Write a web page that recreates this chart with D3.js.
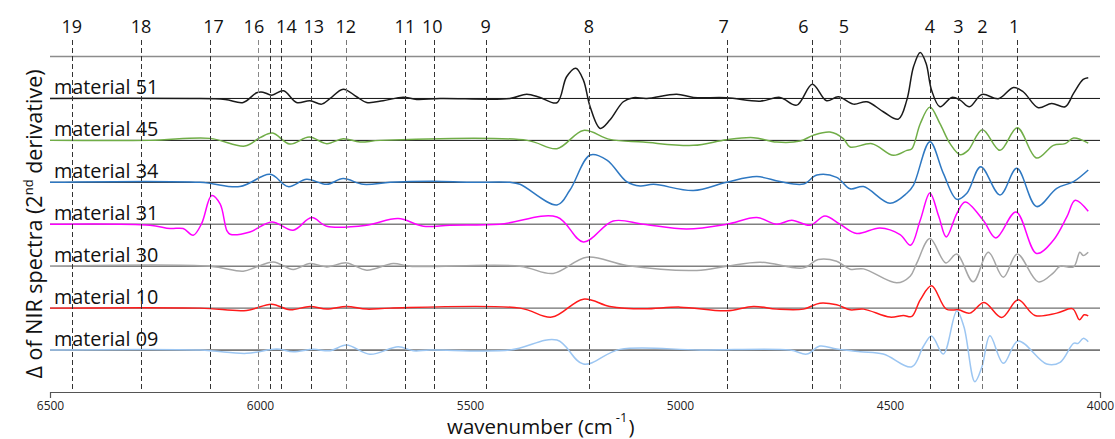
<!DOCTYPE html>
<html><head><meta charset="utf-8">
<script src="https://cdn.jsdelivr.net/npm/d3@7"></script>
<style>
body{margin:0;background:#fff}
svg{display:block}
text{font-family:"Open Sans",Lato,sans-serif}
</style>
</head><body>
<svg id="chart" width="1115" height="439"></svg>
<script>
// ---------- data ----------
const seriesNames = ["material 51","material 45","material 34","material 31","material 30","material 10","material 09"];
const seriesColors = ["#1a1a1a","#70ad47","#2e78c2","#ff00ff","#a6a6a6","#ff1a1a","#9cc6f2"];
const bandLabels = ["19","18","17","16","","14","13","12","11","10","9","8","7","6","5","4","3","2","1"];
const bandWavenumbers = [6448,6283,6118,6005,5976,5949,5879,5796,5655,5585,5463,5217,4889,4685,4619,4405,4337,4280,4197];
const xTicks = [6500,6000,5500,5000,4500,4000];

const m51 = [[6500,0],[6167,0],[6083,-1],[6040,-4],[6008,5.7],[5993,6.3],[5972,3.3],[5944,7.7],[5913,-4],[5881,-2.3],[5853,-5.7],[5833,0],[5802,9.3],[5770,1.7],[5746,-4],[5707,-2.3],[5659,1.3],[5627,-1],[5571,0],[5405,0],[5365,4.3],[5333,1],[5293,-4.3],[5270,21.7],[5248,30.3],[5230,18.3],[5214,-8.3],[5190,-30],[5167,-21.7],[5135,-3.3],[5111,0.7],[5079,0],[5008,4.3],[4968,1],[4889,0.7],[4809,-2.7],[4762,1],[4722,-6.7],[4685,14.3],[4651,-2.3],[4623,1.7],[4587,-5.7],[4555,-3.3],[4516,-13.3],[4480,-20.7],[4460,-1.7],[4444,31.7],[4428,46],[4414,35],[4401,8.3],[4381,-8.3],[4353,1],[4333,-1.7],[4311,-8.3],[4281,4],[4242,-0.3],[4206,11],[4183,6.7],[4147,-9.3],[4115,-5],[4083,-8.3],[4063,5],[4040,19],[4028,20.7]];
const m45 = [[6500,0],[6262,0],[6119,2],[6036,-5.7],[6000,2.7],[5970,7.3],[5929,-3.7],[5883,3.3],[5841,-3.3],[5802,1.7],[5762,-1.7],[5714,0],[5364,0],[5293,-8.3],[5230,10],[5167,1],[5088,-1.7],[4968,-5],[4889,0.7],[4825,2.7],[4770,-1.7],[4714,-0.7],[4683,5],[4643,8.3],[4611,1.7],[4595,-6.7],[4543,-3.3],[4492,-15],[4460,-10],[4448,-8.3],[4428,16.7],[4405,33.3],[4381,16.7],[4357,-3.3],[4333,-14.3],[4314,-10],[4280,10.7],[4238,-10],[4197,12.7],[4151,-17.7],[4111,-5],[4083,-3.3],[4063,2.3],[4028,-2.7]];
const m34 = [[6500,0],[6143,0],[6048,-4.3],[5976,8],[5933,-4.3],[5889,3],[5841,-2],[5802,3.7],[5754,-2],[5690,0],[5588,1],[5500,0],[5405,0],[5381,-2],[5293,-22.7],[5262,-7.7],[5214,27.3],[5174,22.3],[5127,0.7],[5095,-3.7],[5063,-2],[4968,-8.3],[4889,0],[4817,5.7],[4762,0.7],[4706,-1.7],[4674,7.3],[4627,5],[4595,-6.5],[4563,-4.3],[4500,-21],[4460,-11],[4444,-2.7],[4405,40.7],[4373,9],[4341,-17],[4317,-11],[4284,15.7],[4238,-12.7],[4198,14],[4151,-24.3],[4103,-6],[4063,0.7],[4028,12.3]];
const m31 = [[6500,0],[6262,-1],[6214,-4.3],[6183,-4.3],[6159,-11],[6139,0.7],[6115,28.7],[6095,20.3],[6079,-6.3],[6071,-10],[6024,-7.7],[5972,2.3],[5921,-6],[5877,6.7],[5841,-2],[5746,-1],[5671,5.7],[5611,-2],[5548,-1],[5429,0],[5293,7.3],[5230,-17.7],[5159,3.3],[5087,0],[4984,-4.7],[4889,0],[4817,6.7],[4770,0],[4734,4],[4690,-1],[4655,8.3],[4619,0],[4579,-9.3],[4524,-3.7],[4476,-10.3],[4451,-21],[4428,4],[4405,31.3],[4384,8],[4366,-12.7],[4341,10.7],[4321,22.3],[4278,4],[4248,-13.7],[4200,12.3],[4151,-29.3],[4111,-16],[4079,7.3],[4059,24],[4028,13]];
const m30 = [[6500,0],[6119,0],[6040,-5],[6008,-0.7],[5968,4.3],[5921,-3.3],[5881,2.7],[5841,-0.7],[5794,3.3],[5746,-4],[5683,2.7],[5643,0],[5381,0],[5302,-7.3],[5222,9],[5127,0.7],[4960,-4.3],[4889,0],[4809,4],[4706,-1.7],[4671,6.7],[4627,5],[4595,-3],[4563,-2.7],[4484,-16.7],[4452,-10],[4436,3.3],[4405,27.7],[4367,3.3],[4341,12.3],[4302,-15.7],[4266,14],[4230,-11],[4197,12.3],[4147,-15.7],[4111,-6.7],[4095,0],[4063,-0.7],[4048,14],[4040,10.7],[4028,14]];
const m10 = [[6500,0],[6143,0],[6032,-2.3],[5972,4],[5929,-1.7],[5881,1.7],[5841,-1],[5794,1.7],[5746,-1],[5690,0],[5381,0],[5305,-9],[5230,9],[5167,1.7],[5087,-0.7],[5000,1],[4889,-2.7],[4825,1.7],[4770,-1],[4706,-1],[4667,5],[4627,3.3],[4595,-1.7],[4563,-1],[4500,-9],[4468,-7.3],[4448,-8.3],[4428,8.3],[4401,22.3],[4366,-1],[4337,-1.7],[4310,-5],[4276,5.7],[4234,-9.3],[4195,8.3],[4155,-7.3],[4103,-5],[4065,-0.7],[4049,-11.7],[4038,-6.7],[4028,-7.7]];
const m09 = [[6500,0],[6143,0],[6032,-3.3],[5960,1],[5921,-1.7],[5873,0.7],[5833,-0.7],[5794,5],[5738,-4.3],[5671,3.3],[5635,-0.7],[5595,0],[5405,0],[5293,10],[5230,-14],[5143,0.7],[4952,0],[4738,0],[4698,-4],[4667,4],[4627,1],[4571,-1.7],[4516,-4],[4448,-16.7],[4421,3.3],[4401,14],[4373,-4],[4341,39],[4324,23.3],[4298,-31.7],[4281,-16.7],[4262,14.3],[4230,-13.3],[4195,9],[4127,-14],[4095,-12.3],[4063,6.7],[4052,6.7],[4040,11.7],[4028,8.3]];
const seriesValues = [m51,m45,m34,m31,m30,m10,m09];

// ---------- layout ----------
const svg = d3.select("#chart");
const plotLeft = 50, plotRight = 1100, axisY = 392, topY = 56.5;
const step = 42;
const x = d3.scaleLinear().domain([6500,4000]).range([plotLeft, plotRight]);
const y = d3.scaleLinear().domain([0, 8*step]).range([axisY, topY]);
const level = i => (seriesNames.length - i) * step;

// top reference line
svg.append("line").attr("x1",plotLeft).attr("x2",plotRight)
  .attr("y1",y(8*step)).attr("y2",y(8*step))
  .attr("stroke","#8c8c8c").attr("stroke-width",1.5);

// baselines
const baseColors = ["#111","#111","#111","#808080","#808080","#707070","#111"];
const baseWidths = [1,1,1,1.6,1.6,1.3,1];
seriesNames.forEach((n,i)=>{
  svg.append("line").attr("x1",plotLeft).attr("x2",plotRight)
    .attr("y1",y(level(i))).attr("y2",y(level(i)))
    .attr("stroke",baseColors[i]).attr("stroke-width",baseWidths[i]);
});

// curves
const line = d3.line().curve(d3.curveCatmullRom.alpha(0.5));
seriesValues.forEach((vals,i)=>{
  line.x(d=>x(d[0])).y(d=>y(level(i)+d[1]));
  svg.append("path").attr("d", line(vals)).attr("fill","none")
    .attr("stroke",seriesColors[i]).attr("stroke-width",1.5)
    .attr("stroke-linejoin","round");
});

// dashed band lines
const bandLineColor = ["#333","#333","#333","#888","#333","#333","#333","#777","#333","#333","#333","#444","#333","#333","#777","#333","#333","#777","#333"];
bandWavenumbers.forEach((w,i)=>{
  svg.append("line").attr("x1",Math.round(x(w))+0.5).attr("x2",Math.round(x(w))+0.5)
    .attr("y1",40).attr("y2",axisY)
    .attr("stroke",bandLineColor[i]).attr("stroke-width",1)
    .attr("stroke-dasharray","5,3");
});
const labelNudge = {"17":3,"16":-4,"14":5,"13":3,"10":-2,"7":-3,"6":-9,"5":4,"1":-3};
bandWavenumbers.forEach((w,i)=>{
  if(!bandLabels[i]) return;
  svg.append("text").attr("x", x(w) + (labelNudge[bandLabels[i]]||0)).attr("y",33)
    .attr("text-anchor","middle").attr("font-size",18).attr("fill","#111")
    .text(bandLabels[i]);
});

// material labels
seriesNames.forEach((n,i)=>{
  svg.append("text").attr("x",54).attr("y",y(level(i))-4.5)
    .attr("font-size",19.8).attr("fill","#111").text(n);
});

// x axis
const xAxis = d3.axisBottom(x).tickValues(xTicks).tickSizeInner(0).tickSizeOuter(6).tickPadding(9)
  .tickFormat(d3.format("d"));
const gx = svg.append("g").attr("transform",`translate(0,${axisY})`).call(xAxis);
gx.select(".domain").attr("stroke","#555").attr("stroke-width",1.2);
gx.selectAll("text").attr("font-size",12).attr("fill","#222").style("font-family","'Open Sans',Lato,sans-serif");

// x title
const xt = svg.append("text").attr("x",447).attr("y",434).attr("font-size",20.5).attr("fill","#111");
xt.append("tspan").text("wavenumber (cm");
xt.append("tspan").attr("dx",3).attr("dy",-12).attr("font-size",13).text("-1");
xt.append("tspan").attr("dx",1).attr("dy",12).text(")");

// y title
const yt = svg.append("text").attr("transform","translate(42,224) rotate(-90)")
  .attr("text-anchor","middle").attr("font-size",21.5).attr("fill","#111");
yt.append("tspan").text("\u0394 of NIR spectra (2");
yt.append("tspan").attr("dy",-9).attr("font-size",13).text("nd");
yt.append("tspan").attr("dy",9).text(" derivative)");
</script>
</body></html>
